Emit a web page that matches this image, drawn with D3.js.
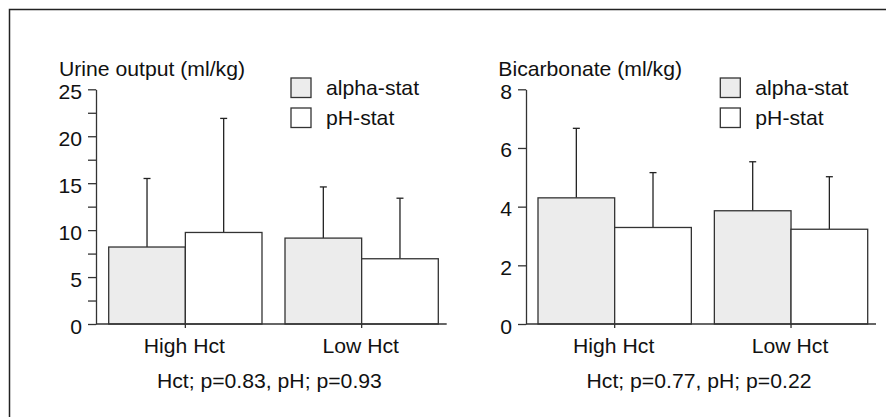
<!DOCTYPE html>
<html>
<head>
<meta charset="utf-8">
<script src="https://cdn.jsdelivr.net/npm/d3@7"></script>
<style>
  body { margin: 0; background: #fff; }
  svg { display: block; }
  text { font-family: "Liberation Sans", Arial, sans-serif; font-size: 20px; fill: #111; }
</style>
</head>
<body>
<script>
var width = 896;
var height = 417;

var groups = ["High Hct", "Low Hct"];
var series = ["alpha-stat", "pH-stat"];

// urine output (ml/kg), mean and SD
var urineAlpha = [8.2, 9.15];
var urinePH = [9.75, 6.95];
var urineAlphaSD = [7.3, 5.45];
var urinePHSD = [12.15, 6.45];

// bicarbonate (ml/kg), mean and SD
var bicarbAlpha = [4.3, 3.86];
var bicarbPH = [3.29, 3.23];
var bicarbAlphaSD = [2.37, 1.67];
var bicarbPHSD = [1.87, 1.79];

var urineTicks = [0, 2.5, 5, 7.5, 10, 12.5, 15, 17.5, 20, 22.5, 25];
var bicarbTicks = [0, 2, 4, 6, 8];

var stretch = 1.06; // text in the picture is a bit wide

var svg = d3.select("body")
  .append("svg")
  .attr("width", width)
  .attr("height", height);

// frame
svg.append("path")
  .attr("d", "M9.5," + height + "V9.5H886")
  .attr("fill", "none")
  .attr("stroke", "#222")
  .attr("stroke-width", 1.5);

function wideText(g, x, y, str, anchor) {
  return g.append("text")
    .attr("transform", "translate(" + x + "," + y + ") scale(" + stretch + ",1)")
    .attr("text-anchor", anchor || "start")
    .text(str);
}

function panel(opt) {
  var g = svg.append("g");

  var y = d3.scaleLinear()
    .domain([0, opt.yMax])
    .range([324, 89.3]);

  var x0 = d3.scaleBand()
    .domain(groups)
    .range(opt.bandRange)
    .paddingInner(0.1305)
    .paddingOuter(0);

  var x1 = d3.scaleBand()
    .domain(series)
    .range([0, x0.bandwidth()]);

  var fills = { "alpha-stat": "#ececec", "pH-stat": "#fff" };

  var rows = [];
  groups.forEach(function(gr, i) {
    rows.push({ group: gr, s: "alpha-stat", v: opt.alpha[i], sd: opt.alphaSD[i] });
    rows.push({ group: gr, s: "pH-stat", v: opt.ph[i], sd: opt.phSD[i] });
  });

  // error bars (upper only)
  var err = g.selectAll(".err")
    .data(rows)
    .enter()
    .append("g")
    .attr("class", "err")
    .attr("stroke", "#222")
    .attr("stroke-width", 1.3);

  err.append("line")
    .attr("x1", function(d) { return x0(d.group) + x1(d.s) + x1.bandwidth() / 2; })
    .attr("x2", function(d) { return x0(d.group) + x1(d.s) + x1.bandwidth() / 2; })
    .attr("y1", function(d) { return y(d.v); })
    .attr("y2", function(d) { return y(d.v + d.sd); });

  err.append("line")
    .attr("x1", function(d) { return x0(d.group) + x1(d.s) + x1.bandwidth() / 2 - 3.5; })
    .attr("x2", function(d) { return x0(d.group) + x1(d.s) + x1.bandwidth() / 2 + 3.5; })
    .attr("y1", function(d) { return y(d.v + d.sd); })
    .attr("y2", function(d) { return y(d.v + d.sd); });

  // bars
  g.selectAll(".bar")
    .data(rows)
    .enter()
    .append("rect")
    .attr("class", "bar")
    .attr("x", function(d) { return x0(d.group) + x1(d.s); })
    .attr("y", function(d) { return y(d.v); })
    .attr("width", x1.bandwidth())
    .attr("height", function(d) { return y(0) - y(d.v); })
    .attr("fill", function(d) { return fills[d.s]; })
    .attr("stroke", "#333")
    .attr("stroke-width", 1.3);

  // y axis
  var yAxis = d3.axisLeft(y)
    .tickValues(opt.ticks)
    .tickSize(8)
    .tickSizeOuter(0)
    .tickPadding(5)
    .tickFormat(function(d) { return d % opt.labelStep === 0 ? d : ""; });

  var ya = g.append("g")
    .attr("transform", "translate(" + opt.axisX + ",0)")
    .call(yAxis);
  ya.selectAll("path, line").attr("stroke", "#333").attr("stroke-width", 1.3);
  ya.selectAll("text")
    .attr("x", -14 / stretch)
    .attr("dy", "0.45em")
    .attr("transform", "scale(" + stretch + ",1)")
    .style("font-size", "20px")
    .style("font-family", "'Liberation Sans', Arial, sans-serif")
    .attr("fill", "#111");

  // x axis line
  g.append("line")
    .attr("x1", opt.axisX)
    .attr("x2", opt.axisEnd)
    .attr("y1", y(0))
    .attr("y2", y(0))
    .attr("stroke", "#333")
    .attr("stroke-width", 1.3);

  var xAxis = d3.axisBottom(x0).tickSize(4).tickSizeOuter(0).tickFormat("");
  var xa = g.append("g")
    .attr("transform", "translate(0," + y(0) + ")")
    .call(xAxis);
  xa.select(".domain").remove();
  xa.selectAll("line").attr("stroke", "#333").attr("stroke-width", 1.3);

  groups.forEach(function(gr) {
    wideText(g, x0(gr) + x0.bandwidth() / 2 - 1, 353, gr, "middle");
  });

  // title, note
  wideText(g, opt.titleX, 76, opt.title);
  wideText(g, (opt.axisX + opt.axisEnd) / 2 - 2, 388, opt.note, "middle");

  // legend
  series.forEach(function(s, i) {
    g.append("rect")
      .attr("x", opt.legendX)
      .attr("y", 78 + i * 30)
      .attr("width", 20)
      .attr("height", 19.5)
      .attr("fill", fills[s])
      .attr("stroke", "#333")
      .attr("stroke-width", 1.3);
    wideText(g, opt.legendX + 35, 95 + i * 30, s);
  });
}

panel({
  title: "Urine output (ml/kg)",
  note: "Hct; p=0.83, pH; p=0.93",
  alpha: urineAlpha, ph: urinePH, alphaSD: urineAlphaSD, phSD: urinePHSD,
  yMax: 25, ticks: urineTicks, labelStep: 5,
  axisX: 96, axisEnd: 446.7, bandRange: [108.7, 438.3],
  titleX: 59, legendX: 291
});

panel({
  title: "Bicarbonate (ml/kg)",
  note: "Hct; p=0.77, pH; p=0.22",
  alpha: bicarbAlpha, ph: bicarbPH, alphaSD: bicarbAlphaSD, phSD: bicarbPHSD,
  yMax: 8, ticks: bicarbTicks, labelStep: 2,
  axisX: 526, axisEnd: 876, bandRange: [538, 867.7],
  titleX: 498.3, legendX: 720.3
});
</script>
</body>
</html>
